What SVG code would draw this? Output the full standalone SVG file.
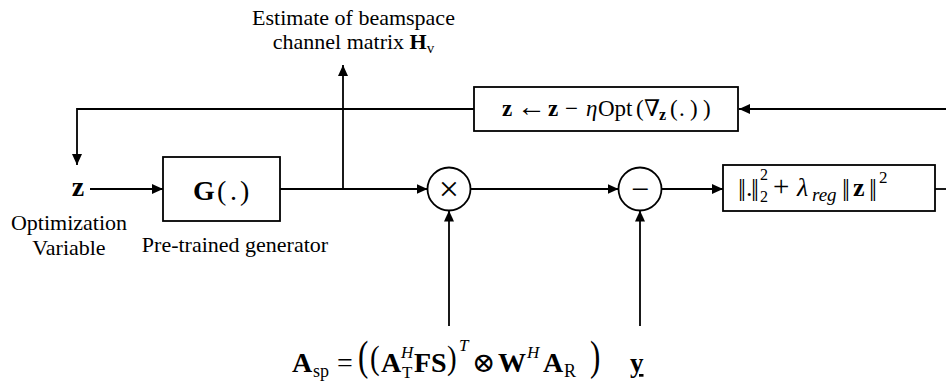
<svg xmlns="http://www.w3.org/2000/svg" width="946" height="381" viewBox="0 0 946 381">
<style>
.ln{stroke:#000;stroke-width:1.8;fill:none}
.box{fill:#fff;stroke:#000;stroke-width:1.8}
.t{font-family:"Liberation Serif","DejaVu Serif",serif;fill:#000}
.lbl{font-size:22px}
.b{font-weight:bold}
.i{font-style:italic}
.nb{letter-spacing:-2.5px}
</style>
<defs>
<marker id="ah" markerUnits="userSpaceOnUse" markerWidth="12" markerHeight="10" refX="11" refY="5" orient="auto">
<path d="M0,0 L11,5 L0,10 Z" fill="#000"/>
</marker>
</defs>

<g id="connectors">
<path class="ln" d="M946,109 L739,109" marker-end="url(#ah)"/>
<path class="ln" d="M474,109 L77,109 L77,165" marker-end="url(#ah)"/>
<path class="ln" d="M90,189 L163,189" marker-end="url(#ah)"/>
<path class="ln" d="M280,189 L427.5,189" marker-end="url(#ah)"/>
<path class="ln" d="M343,189 L343,65" marker-end="url(#ah)"/>
<path class="ln" d="M470.5,189 L618.5,189" marker-end="url(#ah)"/>
<path class="ln" d="M661.5,189 L723,189" marker-end="url(#ah)"/>
<path class="ln" d="M935,189 L946,189"/>
<path class="ln" d="M449,326 L449,210.5" marker-end="url(#ah)"/>
<path class="ln" d="M640,326 L640,210.5" marker-end="url(#ah)"/>
</g>

<g id="label-estimate">
<text class="t lbl" x="353.5" y="25" text-anchor="middle">Estimate of beamspace</text>
<text class="t lbl" x="353.5" y="49" text-anchor="middle">channel matrix <tspan class="b">H</tspan><tspan font-size="15" dy="4">v</tspan></text>
</g>

<g id="node-update">
<rect class="box" x="474" y="87" width="264" height="44"/>
<text class="t" font-size="23" y="116"><tspan class="b" x="502">z</tspan><tspan x="517" font-size="29">←</tspan><tspan class="b" x="548">z</tspan><tspan x="565">−</tspan><tspan class="i" x="586">η</tspan><tspan x="598">Opt</tspan><tspan x="636">(</tspan><tspan x="644">∇</tspan><tspan class="b" font-size="16" x="659" y="120">z</tspan><tspan x="670" y="116">(</tspan><tspan x="679">.</tspan><tspan x="690">)</tspan><tspan x="703">)</tspan></text>
</g>

<g id="node-z">
<text class="t b" font-size="28" x="78" y="196" text-anchor="middle">z</text>
<text class="t lbl" x="69" y="230" text-anchor="middle">Optimization</text>
<text class="t lbl" x="69" y="255" text-anchor="middle">Variable</text>
</g>

<g id="node-generator">
<rect class="box" x="163" y="157" width="117" height="64"/>
<text class="t" font-size="28" y="200"><tspan class="b" x="193">G</tspan><tspan x="217">(</tspan><tspan x="230">.</tspan><tspan x="240">)</tspan></text>
<text class="t lbl" x="235" y="252" text-anchor="middle">Pre-trained generator</text>
</g>

<g id="node-mult">
<circle class="box" cx="449" cy="189" r="21.5"/>
<text class="t" font-size="36" x="449" y="201" text-anchor="middle">×</text>
</g>

<g id="node-sub">
<circle class="box" cx="640" cy="189" r="21.5"/>
<text class="t" font-size="32" x="640" y="200" text-anchor="middle">−</text>
</g>

<g id="node-loss">
<rect class="box" x="723" y="165" width="212" height="46"/>
<text class="t" font-size="26" y="196"><tspan class="nb" x="738">||</tspan><tspan x="746">.</tspan><tspan class="nb" x="751">||</tspan><tspan font-size="16" x="760" y="180">2</tspan><tspan font-size="16" x="760" y="202">2</tspan><tspan x="773" y="196" font-size="29">+</tspan><tspan class="i" x="797">λ</tspan><tspan class="i" font-size="19" x="812" y="201">reg</tspan><tspan class="nb" x="842" y="196">||</tspan><tspan class="b" x="853">z</tspan><tspan class="nb" x="869">||</tspan><tspan font-size="17" x="879" y="183">2</tspan></text>
</g>

<g id="node-asp">
<text class="t" font-size="28" y="372"><tspan class="b" x="292">A</tspan><tspan font-size="18" x="313" y="377">sp</tspan><tspan x="337" y="372">=</tspan><tspan class="b" x="381" y="372">A</tspan><tspan class="i" font-size="17" x="401" y="358">H</tspan><tspan font-size="17" x="402" y="378">T</tspan><tspan class="b" x="414" y="372">FS</tspan><tspan class="i" font-size="17" x="459" y="351">T</tspan><tspan x="472" y="372">⊗</tspan><tspan class="b" x="498" y="372">W</tspan><tspan class="i" font-size="17" x="527" y="358">H</tspan><tspan class="b" x="543" y="372">A</tspan><tspan font-size="18" x="564" y="377">R</tspan></text>
<text class="t" font-size="31" transform="translate(358,370) scale(1,1.35)">(</text>
<text class="t" font-size="29" transform="translate(370,369) scale(1,1.15)">(</text>
<text class="t" font-size="29" transform="translate(447,369) scale(1,1.15)">)</text>
<text class="t" font-size="31" transform="translate(590,370) scale(1,1.35)">)</text>
</g>

<g id="node-y">
<text class="t b" font-size="27" x="630" y="372" text-decoration="underline">y</text>
</g>
</svg>
